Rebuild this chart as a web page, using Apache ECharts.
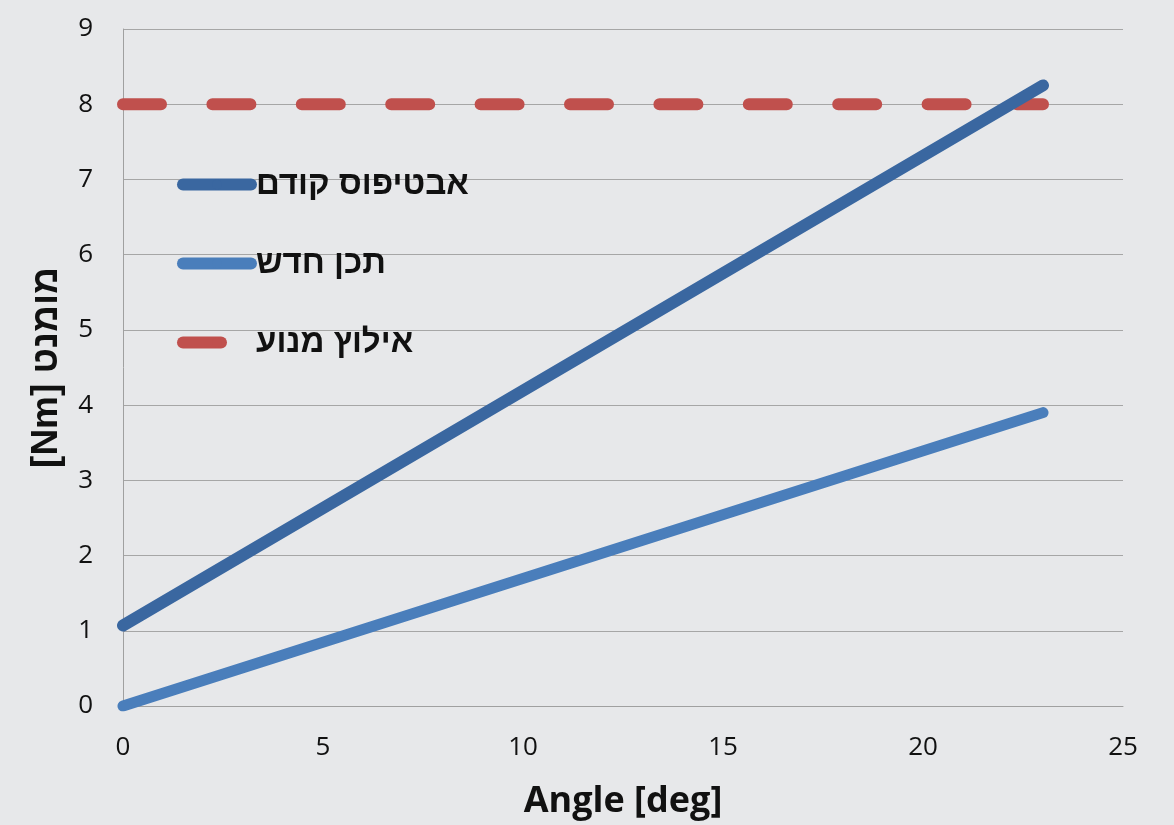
<!DOCTYPE html>
<html>
<head>
<meta charset="utf-8">
<script src="https://cdn.jsdelivr.net/npm/echarts@6/dist/echarts.min.js"></script>
<style>
  html, body { margin: 0; padding: 0; background: #e7e8ea; }
  #chart { width: 1174px; height: 825px; }
</style>
</head>
<body>
<div id="chart"></div>
<script>
// Angle values (deg) at which each line is sampled
const angles = [0, 23];
// Torque of the previous prototype (Nm)
const prevPrototype = [1.07, 8.25];
// Torque of the new design (Nm)
const newDesign = [0, 3.9];
// Motor constraint (Nm)
const motorLimit = [8, 8];
// Series names
const seriesNames = ['אבטיפוס קודם', 'תכן חדש', 'אילוץ מנוע'];

const pairs = (xs, ys) => xs.map((x, i) => [x, ys[i]]);

const chart = echarts.init(document.getElementById('chart'));
const labelFont = { fontFamily: 'Open Sans', fontSize: 26, color: '#111' };

chart.setOption({
  backgroundColor: '#e7e8ea',
  animation: false,
  grid: { left: 123, right: 51, top: 29, bottom: 118, containLabel: false },
  xAxis: {
    type: 'value', min: 0, max: 25, interval: 5,
    name: 'Angle [deg]', nameLocation: 'middle', nameGap: 78,
    nameTextStyle: { fontFamily: 'Open Sans', fontWeight: 'bold', fontSize: 36, color: '#111' },
    axisLine: { show: true, lineStyle: { color: '#a0a0a0', width: 1 } },
    axisTick: { show: false },
    axisLabel: Object.assign({ margin: 29 }, labelFont),
    splitLine: { show: false }
  },
  yAxis: {
    type: 'value', min: 0, max: 9, interval: 1,
    name: '[Nm] מומנט', nameLocation: 'middle', nameGap: 58, nameRotate: 90,
    nameTextStyle: { fontFamily: 'Liberation Sans', fontWeight: 'bold', fontSize: 37, color: '#111' },
    axisLine: { show: true, lineStyle: { color: '#a0a0a0', width: 1 } },
    axisTick: { show: false },
    axisLabel: Object.assign({ margin: 30 }, labelFont),
    splitLine: { show: true, lineStyle: { color: '#a6a6a6', width: 1 } }
  },
  legend: {
    orient: 'vertical', left: 172, top: 163,
    itemWidth: 68, itemHeight: 12, itemGap: 46, itemTextGap: 6,
    data: seriesNames,
    lineStyle: { width: 12, cap: 'round' },
    textStyle: { fontFamily: 'Liberation Sans', fontWeight: 'bold', fontSize: 33, color: '#111' }
  },
  series: [
    {
      name: seriesNames[0], type: 'line', symbol: 'none', clip: true,
      data: pairs(angles, prevPrototype),
      lineStyle: { color: '#3a67a0', width: 12, cap: 'round' },
      itemStyle: { color: '#3a67a0' }, z: 3
    },
    {
      name: seriesNames[1], type: 'line', symbol: 'none', clip: true,
      data: pairs(angles, newDesign),
      lineStyle: { color: '#4a7ebb', width: 11, cap: 'round' },
      itemStyle: { color: '#4a7ebb' }, z: 3
    },
    {
      name: seriesNames[2], type: 'line', symbol: 'none', clip: true,
      data: pairs(angles, motorLimit),
      lineStyle: { color: '#c0504d', width: 12, cap: 'round', type: [38, 51.4] },
      itemStyle: { color: '#c0504d' }, z: 2
    }
  ]
});
</script>
</body>
</html>
